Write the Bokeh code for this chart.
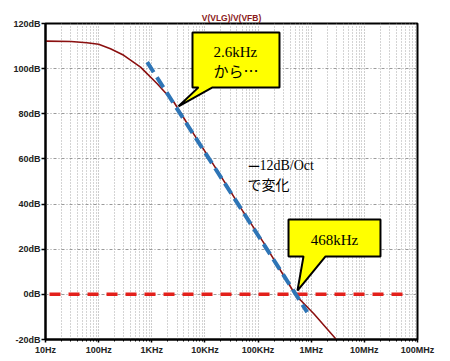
from bokeh.plotting import figure
from bokeh.models import FixedTicker, PrintfTickFormatter, Label
from bokeh.embed import file_html
from bokeh.resources import INLINE

# ---- data ----
freq_hz = [10, 30, 60, 100, 167, 297, 614, 1265, 2596, 3000, 6180, 12700,
           30300, 48000, 128000, 507000, 1120000, 3080000]
gain_db = [112.2, 112.0, 111.5, 110.8, 108.8, 105.9, 100.7, 93.3, 85.2, 82.9,
           71.0, 59.6, 45.6, 38.0, 22.8, -0.3, -8.6, -20.4]

asym_freq = [820, 840000]
asym_db = [102.9, -7.9]

zero_freq = [11.9, 59.6e6]
zero_db = [0, 0]

x_ticks = [10, 100, 1e3, 1e4, 1e5, 1e6, 1e7, 1e8]
x_tick_labels = ["10Hz", "100Hz", "1KHz", "10KHz", "100KHz", "1MHz", "10MHz", "100MHz"]
y_ticks = [-20, 0, 20, 40, 60, 80, 100, 120]

title_text = "V(VLG)/V(VFB)"

p = figure(width=442, height=358, x_axis_type="log",
           x_range=(10, 1e8), y_range=(-20, 120),
           output_backend="svg", toolbar_location=None,
           min_border_left=45, min_border_right=25,
           min_border_top=23, min_border_bottom=19,
           title=title_text)
p.title.align = "center"
p.title.text_font = "Liberation Sans"
p.title.text_font_size = "8.5px"
p.title.text_font_style = "bold"
p.title.text_color = "#8b1a1a"
p.title.standoff = 1
p.title.offset = 0

p.background_fill_color = "white"
p.border_fill_color = "white"
p.outline_line_color = "black"
p.outline_line_width = 2

minor = [m * d for d in [10, 100, 1e3, 1e4, 1e5, 1e6, 1e7] for m in range(2, 10)]
p.xaxis.ticker = FixedTicker(ticks=x_ticks, minor_ticks=minor)
p.xaxis.major_label_overrides = {t: l for t, l in zip(x_ticks, x_tick_labels)}
p.yaxis.ticker = FixedTicker(ticks=y_ticks, minor_ticks=[])
p.yaxis.formatter = PrintfTickFormatter(format="%ddB")

for ax in (p.xaxis, p.yaxis):
    ax.axis_line_color = "black"
    ax.axis_line_width = 2
    ax.major_tick_line_color = "black"
    ax.major_tick_line_width = 1.5
    ax.minor_tick_line_color = "black"
    ax.major_tick_in = 0
    ax.minor_tick_in = 0
    ax.major_label_text_font = "Liberation Sans"
    ax.major_label_text_font_style = "bold"
    ax.major_label_text_font_size = "9px"
    ax.major_label_text_color = "#222222"
p.xaxis.major_tick_out = 3
p.xaxis.minor_tick_out = 2
p.xaxis.major_label_standoff = 2
p.yaxis.major_tick_out = 4
p.yaxis.minor_tick_out = 0
p.yaxis.major_label_standoff = 1

p.xgrid.grid_line_color = "#9a9a9a"
p.xgrid.grid_line_dash = "1 2"
p.xgrid.minor_grid_line_color = "#a8a8a8"
p.xgrid.minor_grid_line_dash = "1 2"
p.ygrid.grid_line_color = "#9a9a9a"
p.ygrid.grid_line_dash = "3 2 1 2"

# 0 dB reference line
p.line(zero_freq, zero_db, line_color="#e3201b", line_width=3.5, line_dash="11 8")
# transfer curve
p.line(freq_hz, gain_db, line_color="#8b1010", line_width=1.6)
# -12dB/Oct asymptote
p.line(asym_freq, asym_db, line_color="#2e75b6", line_width=4, line_dash="12 6")

# callouts
c1x = [5835, 253000, 253000, 13900, 3185, 7570, 5835]
c1y = [116.0, 116.0, 91.7, 91.7, 83.3, 91.7, 91.7]
p.patch(c1x, c1y, fill_color="#ffff00", line_color="black", line_width=2)
c2x = [374000, 20.1e6, 20.1e6, 1.86e6, 552000, 716000, 374000]
c2y = [33.2, 33.2, 16.8, 16.8, 1.7, 16.8, 16.8]
p.patch(c2x, c2y, fill_color="#ffff00", line_color="black", line_width=2)

def lab(x, y, text, font, size, align="left", xoff=0):
    p.add_layout(Label(x=x, y=y, text=text, text_font=font, text_font_size=size,
                       text_align=align, text_baseline="middle", text_color="black",
                       x_offset=xoff))

lab(14500, 107.2, "2.6kHz", "Liberation Serif", "15px")
lab(14500, 99.2, "から…", "Noto Sans CJK JP", "15px")
lab(2.74e6, 24.2, "468kHz", "Liberation Serif", "15px", align="center")
lab(63200, 57.1, "ー", "Noto Sans CJK JP", "13px")
lab(63200, 57.1, "12dB/Oct", "Liberation Serif", "14px", xoff=12)
lab(63200, 49.1, "で変化", "Noto Sans CJK JP", "14px")

open("out.html", "w").write(file_html(p, INLINE))
